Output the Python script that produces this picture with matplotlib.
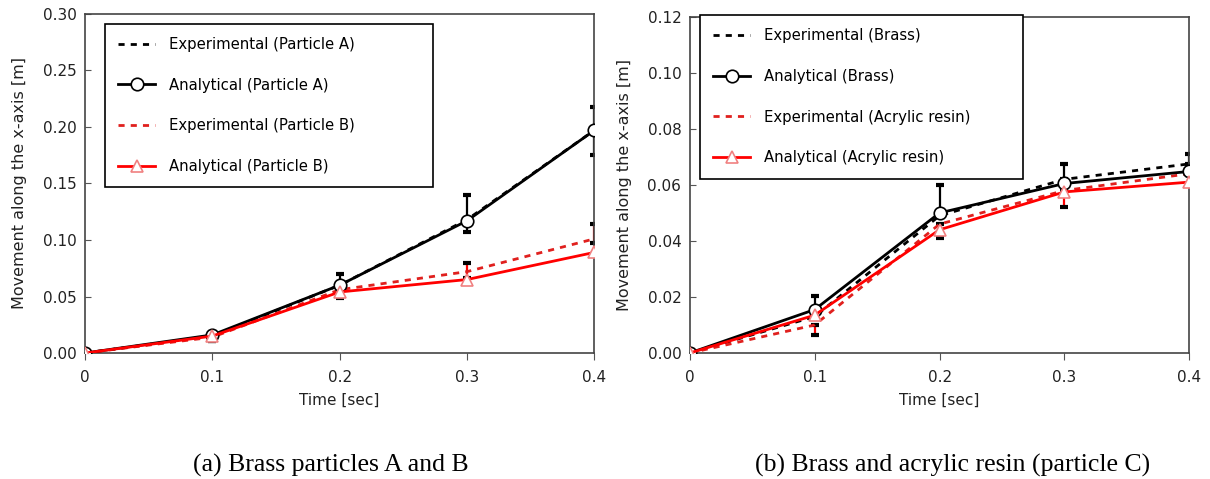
import matplotlib
matplotlib.use("Agg")
import matplotlib.pyplot as plt

plt.rcParams['font.family'] = ['DejaVu Sans']

t = [0, 0.1, 0.2, 0.3, 0.4]

# (a) brass particles A and B
expA = [0, 0.015, 0.060, 0.118, 0.197]
anaA = [0, 0.016, 0.060, 0.117, 0.197]
expB = [0, 0.014, 0.056, 0.072, 0.101]
anaB = [0, 0.015, 0.054, 0.065, 0.089]
errA_lo = [0, 0.004, 0.010, 0.011, 0.022]
errA_hi = [0, 0.003, 0.010, 0.022, 0.021]
errB_lo = [0, 0.003, 0.007, 0.006, 0.004]
errB_hi = [0, 0.003, 0.003, 0.008, 0.013]

# (b) brass and acrylic resin (particle C)
expBr = [0, 0.013, 0.049, 0.062, 0.0675]
anaBr = [0, 0.0155, 0.050, 0.0605, 0.0648]
expAc = [0, 0.010, 0.046, 0.058, 0.064]
anaAc = [0, 0.0135, 0.044, 0.0575, 0.061]
errBr_lo = [0, 0, 0, 0, 0]
errBr_hi = [0, 0.0075, 0.011, 0.0055, 0.0035]
errAc_lo = [0, 0.0035, 0.005, 0.006, 0]
errAc_hi = [0, 0, 0, 0, 0]

fig = plt.figure(figsize=(12.1, 4.79), dpi=100)
ax1 = fig.add_axes([0.0702, 0.263, 0.421, 0.708])
ax2 = fig.add_axes([0.570, 0.263, 0.413, 0.702])

dash = (0, (2.2, 2.2))


def draw(ax, e1, a1, e2, a2, lo1, hi1, lo2, hi2, labels, ymax, ystep, legbox):
    ax.errorbar(t, e1, yerr=[lo1, hi1], fmt='none', ecolor='black',
                elinewidth=1.6, capsize=3, capthick=3, zorder=2)
    _, caps2, _ = ax.errorbar(t, e2, yerr=[lo2, hi2], fmt='none', ecolor='red',
                              elinewidth=1.6, capsize=3, capthick=3, zorder=2)
    for c in caps2:
        c.set_markeredgecolor('black')
        c.set_markerfacecolor('black')
    ax.plot(t, e1, color='black', lw=2, linestyle=dash, label=labels[0], zorder=3)
    ax.plot(t, a1, color='black', lw=2, marker='o', ms=9, mfc='white',
            mec='black', mew=1.2, label=labels[1], zorder=4)
    ax.plot(t, e2, color='#e0201e', lw=2, linestyle=dash, label=labels[2], zorder=3)
    ax.plot(t, a2, color='red', lw=2, marker='^', ms=8, mfc='white',
            mec='#f08080', mew=1.2, label=labels[3], zorder=5)
    ax.set_xlim(0, 0.4)
    ax.set_ylim(0, ymax)
    ax.set_xticks(t)
    ax.set_xticklabels(['0', '0.1', '0.2', '0.3', '0.4'])
    yt = [i * ystep for i in range(int(round(ymax / ystep)) + 1)]
    ax.set_yticks(yt)
    ax.set_yticklabels(['%.2f' % v for v in yt])
    ax.tick_params(axis='y', direction='in', length=4, labelsize=11, color='#555555',
                   labelcolor='#222222', pad=6)
    ax.tick_params(axis='x', direction='out', length=5, labelsize=11, color='#555555',
                   labelcolor='#222222', pad=7)
    for s in ax.spines.values():
        s.set_color('#444444')
        s.set_linewidth(1.2)
    ax.set_xlabel('Time [sec]', fontsize=11, labelpad=6, color='#222222')
    ax.set_ylabel('Movement along the x-axis [m]', fontsize=11.5, labelpad=11,
                  color='#222222')
    leg = ax.legend(loc='upper left', fontsize=10.7, handlelength=2.5, handletextpad=0.9,
                    labelspacing=1.72, fancybox=False, framealpha=1, borderpad=0.9,
                    borderaxespad=0, mode='expand', bbox_to_anchor=legbox)
    leg.get_frame().set_edgecolor('black')
    leg.get_frame().set_linewidth(1.2)


draw(ax1, expA, anaA, expB, anaB, errA_lo, errA_hi, errB_lo, errB_hi,
     ['Experimental (Particle A)', 'Analytical (Particle A)',
      'Experimental (Particle B)', 'Analytical (Particle B)'], 0.30, 0.05,
     (0.039, 0.971, 0.645, 0.0))
draw(ax2, expBr, anaBr, expAc, anaAc, errBr_lo, errBr_hi, errAc_lo, errAc_hi,
     ['Experimental (Brass)', 'Analytical (Brass)',
      'Experimental (Acrylic resin)', 'Analytical (Acrylic resin)'], 0.12, 0.02,
     (0.02, 1.005, 0.646, 0.0))

fig.text(331 / 1210, 1 - 465 / 479, '(a) Brass particles A and B', ha='center',
         va='center', family='Liberation Serif', fontsize=18.5)
fig.text(953 / 1210, 1 - 465 / 479, '(b) Brass and acrylic resin (particle C)',
         ha='center', va='center', family='Liberation Serif', fontsize=18.5)

fig.savefig('out.png', dpi=100)
